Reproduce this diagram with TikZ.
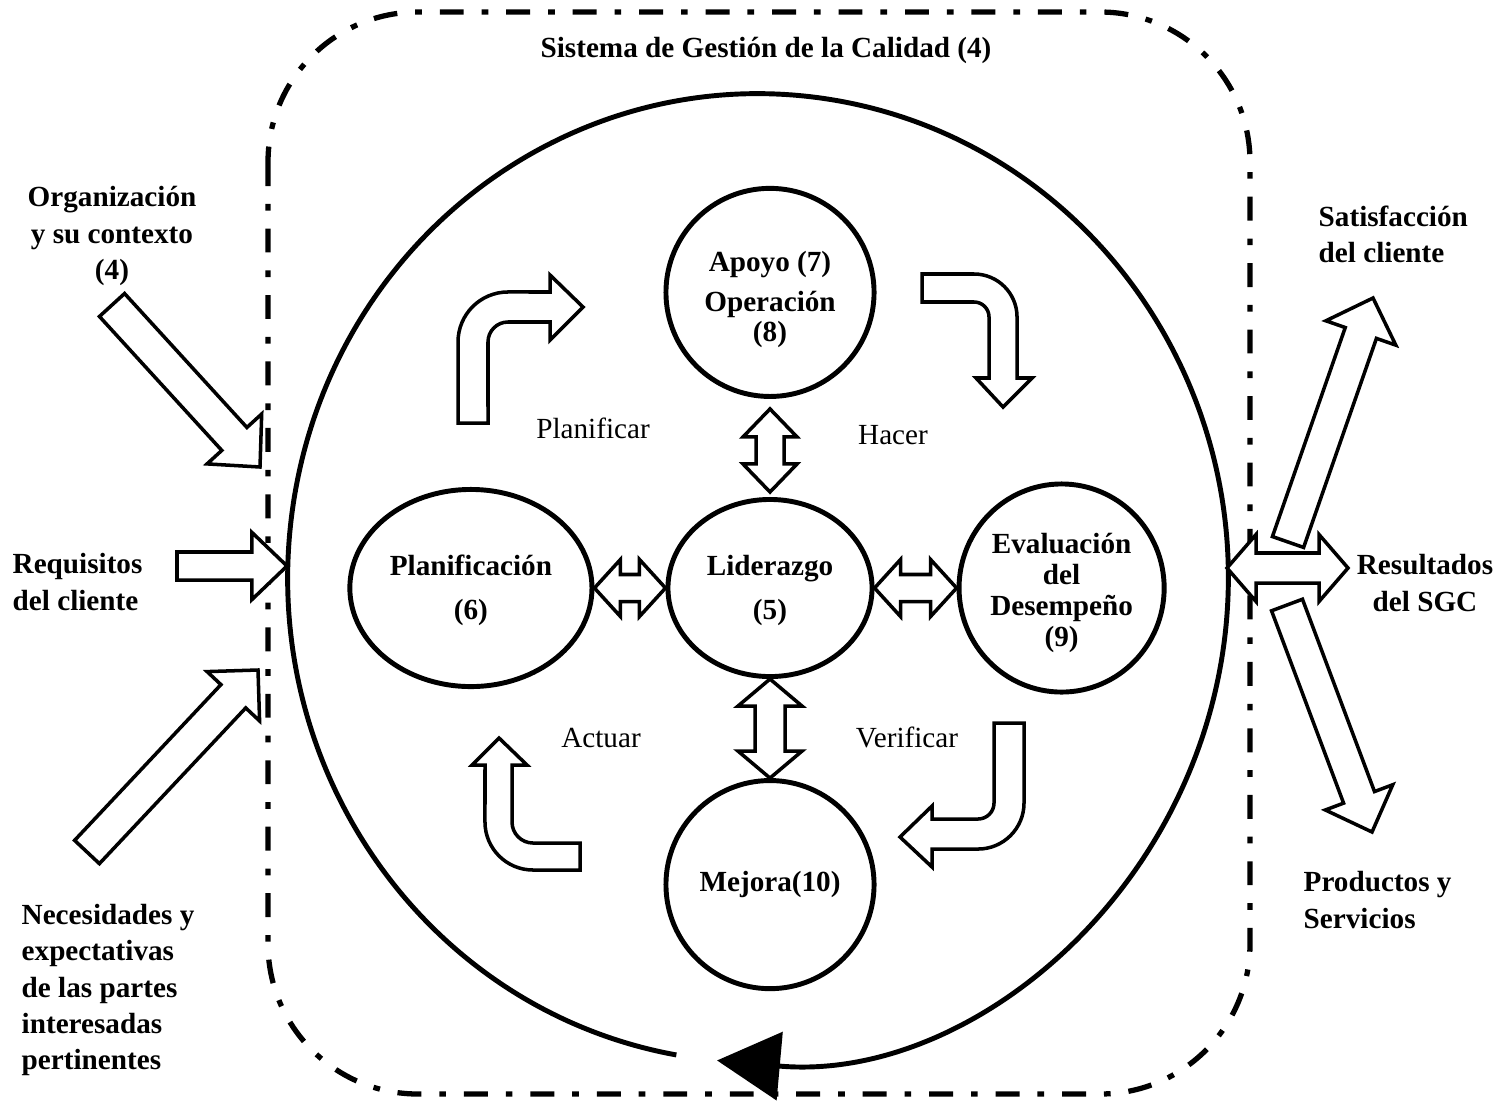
\documentclass[tikz,border=0pt]{standalone}
\usepackage{fontspec}
\setmainfont{Liberation Serif}
\usepackage{tikz}
\usetikzlibrary{arrows.meta, positioning, shapes.geometric, calc}

\newcommand\lblfont{\bfseries\fontsize{8.3}{10.3}\selectfont}
\newcommand\phasefont{\fontsize{8.3}{10.3}\selectfont}

% block arrow: tail, tip, half shaft, half head, head length
\newcommand\blockarrow[5]{%
  \coordinate (ba-b) at ($(#2)!#5!(#1)$);
  \draw[blockline] ($(#1)!#3!90:(#2)$) -- ($(ba-b)!#3!90:(#2)$)
    -- ($(ba-b)!#4!90:(#2)$) -- (#2) -- ($(ba-b)!#4!-90:(#2)$)
    -- ($(ba-b)!#3!-90:(#2)$) -- ($(#1)!#3!-90:(#2)$) -- cycle;
}
% double block arrow: end, end, half shaft, half head, head length
\newcommand\twinarrow[5]{%
  \coordinate (ta-a) at ($(#1)!#5!(#2)$);
  \coordinate (ta-b) at ($(#2)!#5!(#1)$);
  \draw[blockline] (#1) -- ($(ta-a)!#4!90:(#2)$) -- ($(ta-a)!#3!90:(#2)$)
    -- ($(ta-b)!#3!90:(#2)$) -- ($(ta-b)!#4!90:(#2)$) -- (#2)
    -- ($(ta-b)!#4!-90:(#2)$) -- ($(ta-b)!#3!-90:(#2)$)
    -- ($(ta-a)!#3!-90:(#2)$) -- ($(ta-a)!#4!-90:(#2)$) -- cycle;
}

\begin{document}
\begin{tikzpicture}[
  x=0.01cm, y=-0.01cm,
  stage/.style={draw, ellipse, line width=1.4pt, inner sep=0pt, align=center, font=\lblfont},
  lbl/.style={inner sep=0pt, font=\lblfont, align=left},
  phase/.style={inner sep=0pt, font=\phasefont},
  blockline/.style={draw, line width=1pt, fill=white},
  sgcframe/.style={line width=1.5pt, dash pattern=on 6.8pt off 5.1pt on 1.9pt off 5.1pt,
                   rounded corners=1.5cm}
]
  \useasboundingbox (0,0) rectangle (1504,1106);

  % SGC frame and the cycle
  \draw[sgcframe] (268,12) rectangle (1250,1094);
  \coordinate (c) at (758,578);
  \draw[line width=1.4pt, -{Triangle[length=17.9pt, width=19.3pt]}]
    ($(c)+(260:4.7cm and 4.84cm)$) arc[start angle=260, end angle=-95, x radius=4.7cm, y radius=4.84cm];
  \node[lbl] (title) at (766,50) {Sistema de Gestión de la Calidad (4)};

  % stages
  \node[stage, minimum width=2.04cm, minimum height=1.77cm] (lid) at (770,588) {\rule{0pt}{7pt}Liderazgo\\[2.2pt](5)};
  \node[stage, minimum width=2.42cm, minimum height=1.97cm, left=0.71cm of lid] (plan) {\rule{0pt}{7pt}Planificación\\[2.2pt](6)};
  \node[stage, minimum width=2.05cm, minimum height=2.08cm, right=0.82cm of lid,
        font=\bfseries\fontsize{8.3}{8.8}\selectfont] (eval) {\rule{0pt}{8.5pt}Evaluación\\del\\Desempeño\\(9)};
  \node[stage, minimum size=2.08cm, above=0.98cm of lid,
        font=\bfseries\fontsize{8.3}{8.5}\selectfont] (op) {\rule{0pt}{10pt}Apoyo (7)\\[2.9pt]Operación\\(8)};
  \node[stage, minimum size=2.08cm, below=0.99cm of lid] (mej) {Mejora(10)};

  \twinarrow{plan.east}{lid.west}{0.135cm}{0.285cm}{0.26cm}
  \twinarrow{lid.east}{eval.west}{0.135cm}{0.285cm}{0.26cm}
  \coordinate (opfoot) at ($(op.south)+(0,10)$);
  \coordinate (lidtop) at ($(lid.north)+(0,-5)$);
  \twinarrow{opfoot}{lidtop}{0.14cm}{0.27cm}{0.28cm}
  \twinarrow{lid.south}{mej.north}{0.15cm}{0.32cm}{0.27cm}

  % PHVA turning arrows
  \draw[blockline] (458,423) -- (458,342) arc[start angle=180, end angle=90, radius=0.5cm]
    -- (550,292) -- (550,275) -- (583,307) -- (550,340) -- (550,322) -- (508,322)
    arc[start angle=90, end angle=180, radius=0.2cm] -- (488,423) -- cycle;
  \draw[blockline] (922,274) -- (974,274) arc[start angle=90, end angle=0, radius=0.43cm]
    -- (1017,378) -- (1032,378) -- (1003,407) -- (976,378) -- (989,378) -- (989,317)
    arc[start angle=0, end angle=90, radius=0.15cm] -- (922,302) -- cycle;
  \draw[blockline] (580,870) -- (533,870) arc[start angle=270, end angle=180, radius=0.48cm]
    -- (485,765) -- (472,765) -- (499,738) -- (527,765) -- (512,765) -- (512,822)
    arc[start angle=180, end angle=270, radius=0.21cm] -- (580,843) -- cycle;
  \draw[blockline] (994,723) -- (1024,723) -- (1024,803) arc[start angle=0, end angle=-90, radius=0.46cm]
    -- (932,849) -- (932,867) -- (900,837) -- (932,806) -- (932,819) -- (978,819)
    arc[start angle=-90, end angle=0, radius=0.16cm] -- cycle;

  \node[phase] (plnf) at (593,428) {Planificar};
  \node[phase] (hcr)  at (893,435) {Hacer};
  \node[phase] (act)  at (601,738) {Actuar};
  \node[phase] (ver)  at (907,737) {Verificar};

  % inputs
  \node[lbl, align=center] (org) at (112,236) {Organización\\y su contexto\\(4)};
  \node[lbl, anchor=west] (req) at (12,582) {Requisitos\\del cliente};
  \node[lbl, anchor=west] (nec) at (21,990) {Necesidades y\\expectativas\\de las partes\\interesadas\\pertinentes};
  \coordinate (orgT) at (112,305);  \coordinate (orgH) at (260,467);
  \coordinate (reqT) at (177,566);  \coordinate (reqH) at (287,566);
  \coordinate (necT) at (87,852);   \coordinate (necH) at (258,670);
  \blockarrow{orgT}{orgH}{0.17cm}{0.37cm}{0.38cm}
  \blockarrow{reqT}{reqH}{0.14cm}{0.335cm}{0.35cm}
  \blockarrow{necT}{necH}{0.17cm}{0.36cm}{0.36cm}

  % outputs
  \node[lbl, anchor=west] (sat) at (1318,234) {Satisfacción\\del cliente};
  \node[lbl, align=center] (res) at (1425,583) {Resultados\\del SGC};
  \node[lbl, anchor=west] (prod) at (1303,900) {Productos y\\Servicios};
  \coordinate (satT) at (1288,542); \coordinate (satH) at (1373,298);
  \coordinate (resL) at (1227,568); \coordinate (resR) at (1348,568);
  \coordinate (proT) at (1287,605); \coordinate (proH) at (1372,832);
  \blockarrow{satT}{satH}{0.165cm}{0.37cm}{0.37cm}
  \twinarrow{resL}{resR}{0.15cm}{0.335cm}{0.29cm}
  \blockarrow{proT}{proH}{0.165cm}{0.36cm}{0.37cm}
\end{tikzpicture}
\end{document}
